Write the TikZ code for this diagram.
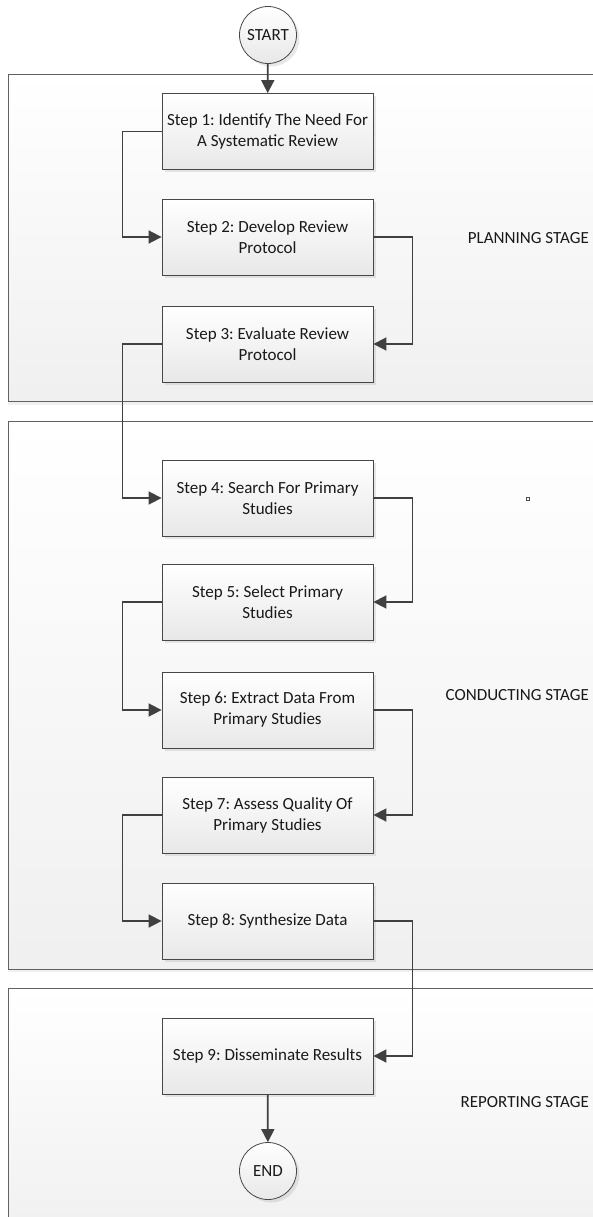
\documentclass[tikz,border=0pt]{standalone}
\usepackage{fontspec}
\setmainfont{Carlito}
\frenchspacing
\usetikzlibrary{arrows.meta,shadows}
\begin{document}
\begin{tikzpicture}[x=1pt,y=-1pt,>={Triangle[length=13pt,width=13pt]},
  every node/.style={font=\fontsize{17}{21}\selectfont,text=black!90,inner sep=0pt},
  stagebox/.style={draw=black!62,line width=.8pt,top color=white,bottom color=black!6,
    drop shadow={shadow xshift=0pt,shadow yshift=-3pt,opacity=.12}},
  stepbox/.style={draw=black!72,line width=.8pt,minimum width=211pt,minimum height=76pt,align=center,
    top color=white,bottom color=black!9,drop shadow={shadow xshift=3pt,shadow yshift=-3pt,opacity=.18}},
  termnode/.style={circle,draw=black!72,line width=.8pt,minimum size=57pt,
    top color=white,bottom color=black!9,drop shadow={shadow xshift=3pt,shadow yshift=-3pt,opacity=.18}},
  flow/.style={draw=black!75,line width=1.7pt}]
  \useasboundingbox (0,0) rectangle (593,1217);
  % stages
  \draw[stagebox] (8,74) rectangle (620,401.5);
  \draw[stagebox] (8,421) rectangle (620,969);
  \draw[stagebox] (8,988) rectangle (620,1240);
  \node[anchor=east] (plan) at (589,238) {PLANNING STAGE};
  \node[anchor=east] (cond) at (589,695) {CONDUCTING STAGE};
  \node[anchor=east] (rep) at (589,1102) {REPORTING STAGE};
  \draw[black!70,line width=.6pt] (526.5,497.5) rectangle ++(3,3);
  % steps
  \node[termnode] (start) at (268,35) {START};
  \node[stepbox] (s1) at (267.5,131.5) {Step 1: Identify The Need For\\A Systematic Review};
  \node[stepbox] (s2) at (267.5,237) {Step 2: Develop Review\\Protocol};
  \node[stepbox] (s3) at (267.5,344) {Step 3: Evaluate Review\\Protocol};
  \node[stepbox] (s4) at (267.5,498) {Step 4: Search For Primary\\Studies};
  \node[stepbox] (s5) at (267.5,602) {Step 5: Select Primary\\Studies};
  \node[stepbox] (s6) at (267.5,710) {Step 6: Extract Data From\\Primary Studies};
  \node[stepbox] (s7) at (267.5,815) {Step 7: Assess Quality Of\\Primary Studies};
  \node[stepbox] (s8) at (267.5,921) {Step 8: Synthesize Data};
  \node[stepbox] (s9) at (267.5,1056) {Step 9: Disseminate Results};
  \node[termnode] (finish) at (268,1171) {END};
  % connectors
  \draw[flow,->] (start) -- (s1);
  \draw[flow,->] (s1.west) -- ++(-39,0) |- (s2.west);
  \draw[flow,->] (s2.east) -- ++(39,0) |- (s3.east);
  \draw[flow,->] (s3.west) -- ++(-39,0) |- (s4.west);
  \draw[flow,->] (s4.east) -- ++(39,0) |- (s5.east);
  \draw[flow,->] (s5.west) -- ++(-39,0) |- (s6.west);
  \draw[flow,->] (s6.east) -- ++(39,0) |- (s7.east);
  \draw[flow,->] (s7.west) -- ++(-39,0) |- (s8.west);
  \draw[flow,->] (s8.east) -- ++(39,0) |- (s9.east);
  \draw[flow,->] (s9) -- (finish);
\end{tikzpicture}
\end{document}
